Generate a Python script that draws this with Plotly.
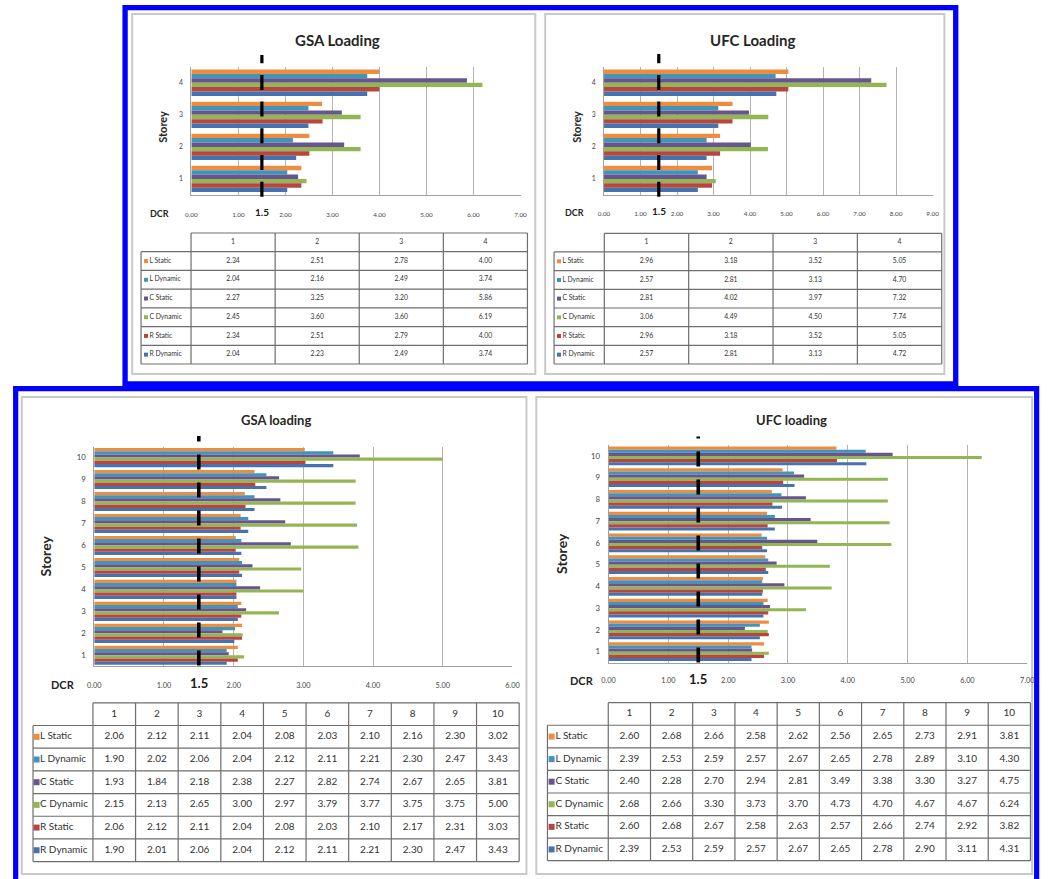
import plotly.graph_objects as go

W, H = 1048, 879
FONT = "Lato, 'Open Sans', sans-serif"

# ---------------- data ----------------
series_names = ["L Static", "L Dynamic", "C Static", "C Dynamic", "R Static", "R Dynamic"]
series_colors = ["#EE8C40", "#3F95BC", "#66558F", "#93B552", "#B8453F", "#4673AE"]

storeys_4 = [1, 2, 3, 4]
storeys_10 = [1, 2, 3, 4, 5, 6, 7, 8, 9, 10]

gsa4_l_static = [2.34, 2.51, 2.78, 4.00]
gsa4_l_dynamic = [2.04, 2.16, 2.49, 3.74]
gsa4_c_static = [2.27, 3.25, 3.20, 5.86]
gsa4_c_dynamic = [2.45, 3.60, 3.60, 6.19]
gsa4_r_static = [2.34, 2.51, 2.79, 4.00]
gsa4_r_dynamic = [2.04, 2.23, 2.49, 3.74]

ufc4_l_static = [2.96, 3.18, 3.52, 5.05]
ufc4_l_dynamic = [2.57, 2.81, 3.13, 4.70]
ufc4_c_static = [2.81, 4.02, 3.97, 7.32]
ufc4_c_dynamic = [3.06, 4.49, 4.50, 7.74]
ufc4_r_static = [2.96, 3.18, 3.52, 5.05]
ufc4_r_dynamic = [2.57, 2.81, 3.13, 4.72]

gsa10_l_static = [2.06, 2.12, 2.11, 2.04, 2.08, 2.03, 2.10, 2.16, 2.30, 3.02]
gsa10_l_dynamic = [1.90, 2.02, 2.06, 2.04, 2.12, 2.11, 2.21, 2.30, 2.47, 3.43]
gsa10_c_static = [1.93, 1.84, 2.18, 2.38, 2.27, 2.82, 2.74, 2.67, 2.65, 3.81]
gsa10_c_dynamic = [2.15, 2.13, 2.65, 3.00, 2.97, 3.79, 3.77, 3.75, 3.75, 5.00]
gsa10_r_static = [2.06, 2.12, 2.11, 2.04, 2.08, 2.03, 2.10, 2.17, 2.31, 3.03]
gsa10_r_dynamic = [1.90, 2.01, 2.06, 2.04, 2.12, 2.11, 2.21, 2.30, 2.47, 3.43]

ufc10_l_static = [2.60, 2.68, 2.66, 2.58, 2.62, 2.56, 2.65, 2.73, 2.91, 3.81]
ufc10_l_dynamic = [2.39, 2.53, 2.59, 2.57, 2.67, 2.65, 2.78, 2.89, 3.10, 4.30]
ufc10_c_static = [2.40, 2.28, 2.70, 2.94, 2.81, 3.49, 3.38, 3.30, 3.27, 4.75]
ufc10_c_dynamic = [2.68, 2.66, 3.30, 3.73, 3.70, 4.73, 4.70, 4.67, 4.67, 6.24]
ufc10_r_static = [2.60, 2.68, 2.67, 2.58, 2.63, 2.57, 2.66, 2.74, 2.92, 3.82]
ufc10_r_dynamic = [2.39, 2.53, 2.59, 2.57, 2.67, 2.65, 2.78, 2.90, 3.11, 4.31]

dcr_limit = 1.5

# ---------------- layout of the four panels (pixels) ----------------
panels = [
    dict(title="GSA Loading", cats=storeys_4, xmax=7,
         series=[gsa4_l_static, gsa4_l_dynamic, gsa4_c_static, gsa4_c_dynamic, gsa4_r_static, gsa4_r_dynamic],
         box=(127, 536, 14, 374), plot=(187, 521, 66.7, 195), group=0.82,
         title_xy=(335, 40), title_size=15, storey_xy=(158, 127), storey_size=11,
         dcr_xy=(155, 213), dcr_size=9, lim_size=10, tick_size=6.3, tick_y=213,
         dash="15px,11.7px", lim_width=3.2, lim_top=55, lim_bot=196.7,
         table=(136, 186.7, 528, 233, 364), table_size=6.8, sq=141, sq_size=4, lab=144.5),
    dict(title="UFC Loading", cats=storeys_4, xmax=9,
         series=[ufc4_l_static, ufc4_l_dynamic, ufc4_c_static, ufc4_c_dynamic, ufc4_r_static, ufc4_r_dynamic],
         box=(546, 951, 14, 374), plot=(605.7, 939, 66.7, 195), group=0.82,
         title_xy=(757, 40), title_size=15, storey_xy=(578, 127), storey_size=11,
         dcr_xy=(576, 212), dcr_size=9, lim_size=10, tick_size=6.3, tick_y=212,
         dash="15px,11.7px", lim_width=3.2, lim_top=54, lim_bot=196.7,
         table=(555, 606, 948.3, 233.3, 364), table_size=6.8, sq=560, sq_size=4, lab=563.5),
    dict(title="GSA loading", cats=storeys_10, xmax=6,
         series=[gsa10_l_static, gsa10_l_dynamic, gsa10_c_static, gsa10_c_dynamic, gsa10_r_static, gsa10_r_dynamic],
         box=(15, 527, 397, 874), plot=(88.5, 512.8, 446.6, 666.3), group=0.87,
         title_xy=(273, 420), title_size=13, storey_xy=(39, 556), storey_size=14,
         dcr_xy=(57, 684), dcr_size=11, lim_size=13, tick_size=7.3, tick_y=684,
         dash="15px,13px", lim_width=3.6, lim_top=436, lim_bot=665.4,
         table=(26.4, 87.2, 519.6, 702.8, 861.6), table_size=10, sq=30, sq_size=6, lab=33.5),
    dict(title="UFC loading", cats=storeys_10, xmax=7,
         series=[ufc10_l_static, ufc10_l_dynamic, ufc10_c_static, ufc10_c_dynamic, ufc10_r_static, ufc10_r_dynamic],
         box=(537, 1040, 397, 874), plot=(610.3, 1035, 445.1, 662.6), group=0.86,
         title_xy=(796, 420), title_size=13, storey_xy=(562, 553), storey_size=14,
         dcr_xy=(583, 680), dcr_size=11, lim_size=13, tick_size=7.3, tick_y=680,
         dash="15px,13px", lim_width=3.6, lim_top=436.5, lim_bot=662.6,
         table=(548.3, 610, 1038.3, 702.7, 860.7), table_size=10, sq=552.5, sq_size=6, lab=556.5),
]


def px(x):
    return x / W


def py(y):
    return 1 - y / H


def axis_ids(i):
    """Trace references and layout keys for axis number i."""
    s = "" if i == 1 else str(i)
    return f"x{s}", f"y{s}", f"xaxis{s}", f"yaxis{s}"


fig = go.Figure()
layout = dict(
    width=W, height=H, margin=dict(l=0, r=0, t=0, b=0),
    paper_bgcolor="white", plot_bgcolor="rgba(0,0,0,0)",
    showlegend=False, barmode="overlay", font=dict(family=FONT, color="#333333"),
)
shapes = []
annotations = []

for k, p in enumerate(panels):
    cx, cy, cxk, cyk = axis_ids(2 * k + 1)   # chart axes
    tx, ty, txk, tyk = axis_ids(2 * k + 2)   # table axes
    n = len(p["cats"])

    # panel card
    b = p["box"]
    shapes.append(dict(type="rect", xref="paper", yref="paper", layer="below",
                       x0=px(b[0]), x1=px(b[1]), y0=py(b[2]), y1=py(b[3]),
                       line=dict(color="#C9C9C9", width=2), fillcolor="white"))

    # ---- bar chart ----
    x0, x1, y0, y1 = p["plot"]
    layout[cxk] = dict(
        domain=[px(x0), px(x1)], range=[0, p["xmax"]], anchor=cy,
        dtick=1, tick0=0, tickformat=".2f", showgrid=True, gridcolor="#B4B4B4", gridwidth=1,
        zeroline=False, showline=True, linecolor="#A0A0A0", linewidth=1,
        ticks="", ticklabelstandoff=int(p["tick_y"] - y1 - p["tick_size"] * 0.75),
        tickfont=dict(size=p["tick_size"], color="#444444", family=FONT), fixedrange=True,
    )
    layout[cyk] = dict(
        domain=[py(y1), py(y0)], range=[0.5, n + 0.5], anchor=cx,
        tickmode="array", tickvals=p["cats"], ticktext=[str(c) for c in p["cats"]],
        showgrid=False, zeroline=False, showline=True, linecolor="#A0A0A0", linewidth=1,
        ticks="", ticklabelstandoff=6,
        tickfont=dict(size=p["tick_size"] + 0.5, color="#444444", family=FONT), fixedrange=True,
    )
    g = p["group"]
    w = g / 6
    for i, (name, col, vals) in enumerate(zip(series_names, series_colors, p["series"])):
        fig.add_trace(go.Bar(
            x=vals, y=p["cats"], orientation="h", name=name,
            width=w, offset=g / 2 - (i + 1) * w,
            marker=dict(color=col, line=dict(width=0)),
            xaxis=cx, yaxis=cy,
        ))

    # DCR limit line, dashes laid out from the bottom upwards
    hplot = y1 - y0
    shapes.append(dict(type="line", xref=cx, yref=f"{cy} domain", layer="above",
                       x0=dcr_limit, x1=dcr_limit,
                       y0=(y1 - p["lim_bot"]) / hplot, y1=(y1 - p["lim_top"]) / hplot,
                       line=dict(color="black", width=p["lim_width"], dash=p["dash"])))

    # texts around the chart
    annotations.append(dict(text=f"<b>{p['title']}</b>", xref="paper", yref="paper",
                            x=px(p["title_xy"][0]), y=py(p["title_xy"][1]),
                            showarrow=False, xanchor="center", yanchor="middle",
                            font=dict(size=p["title_size"], color="#262626", family=FONT)))
    annotations.append(dict(text="<b>Storey</b>", xref="paper", yref="paper", textangle=-90,
                            x=px(p["storey_xy"][0]), y=py(p["storey_xy"][1]),
                            showarrow=False, xanchor="center", yanchor="middle",
                            font=dict(size=p["storey_size"], color="#262626", family=FONT)))
    annotations.append(dict(text="<b>DCR</b>", xref="paper", yref="paper",
                            x=px(p["dcr_xy"][0]), y=py(p["dcr_xy"][1]),
                            showarrow=False, xanchor="center", yanchor="middle",
                            font=dict(size=p["dcr_size"], color="#262626", family=FONT)))
    annotations.append(dict(text=f"<b>{dcr_limit}</b>", xref=cx, yref="paper",
                            x=dcr_limit, y=py(p["tick_y"] - 1),
                            showarrow=False, xanchor="center", yanchor="middle",
                            font=dict(size=p["lim_size"], color="#1A1A1A", family=FONT)))

    # ---- data table ----
    tl, tlab, tr, tt, tb = p["table"]
    colw = (tr - tlab) / n
    rowh = (tb - tt) / 7
    xl = 0.5 - (tlab - tl) / colw
    pad = 4
    layout[txk] = dict(domain=[px(tl - pad), px(tr + pad)],
                       range=[xl - pad / colw, n + 0.5 + pad / colw],
                       visible=False, fixedrange=True, anchor=ty)
    layout[tyk] = dict(domain=[py(tb + pad), py(tt - pad)],
                       range=[6.5 + pad / rowh, -0.5 - pad / rowh],
                       visible=False, fixedrange=True, anchor=tx)
    gx, gy = [], []
    gx += [0.5, n + 0.5, None]
    gy += [-0.5, -0.5, None]
    for r in range(7):
        gx += [xl, n + 0.5, None]
        gy += [r + 0.5, r + 0.5, None]
    gx += [xl, xl, None]
    gy += [0.5, 6.5, None]
    for c in range(n + 1):
        gx += [c + 0.5, c + 0.5, None]
        gy += [-0.5, 6.5, None]
    fig.add_trace(go.Scatter(x=gx, y=gy, mode="lines", line=dict(color="#6E6E6E", width=1.2),
                             xaxis=tx, yaxis=ty, hoverinfo="skip"))
    # header row
    fig.add_trace(go.Scatter(x=list(range(1, n + 1)), y=[0] * n, mode="text",
                             text=[str(c) for c in p["cats"]], textposition="middle center",
                             textfont=dict(size=p["table_size"], color="#333333", family=FONT),
                             xaxis=tx, yaxis=ty, cliponaxis=False, hoverinfo="skip"))
    for i, (name, col, vals) in enumerate(zip(series_names, series_colors, p["series"])):
        row = i + 1
        fig.add_trace(go.Scatter(x=list(range(1, n + 1)), y=[row] * n, mode="text",
                                 text=[f"{v:.2f}" for v in vals], textposition="middle center",
                                 textfont=dict(size=p["table_size"], color="#333333", family=FONT),
                                 xaxis=tx, yaxis=ty, cliponaxis=False, hoverinfo="skip"))
        fig.add_trace(go.Scatter(x=[xl + (p["sq"] - tl) / colw], y=[row], mode="markers",
                                 marker=dict(symbol="square", size=p["sq_size"], color=col),
                                 xaxis=tx, yaxis=ty, cliponaxis=False, hoverinfo="skip"))
        fig.add_trace(go.Scatter(x=[xl + (p["lab"] - tl) / colw], y=[row], mode="text",
                                 text=[name], textposition="middle right",
                                 textfont=dict(size=p["table_size"], color="#333333", family=FONT),
                                 xaxis=tx, yaxis=ty, cliponaxis=False, hoverinfo="skip"))

# blue outer frames (drawn after the cards so they sit on top of them)
shapes.append(dict(type="rect", xref="paper", yref="paper", layer="below",
                   x0=px(119.8), x1=px(962.5), y0=py(7.6), y1=py(384),
                   line=dict(color="#0000FF", width=5.3)))
shapes.append(dict(type="rect", xref="paper", yref="paper", layer="below",
                   x0=px(8.8), x1=px(1044.6), y0=py(388.6), y1=py(895),
                   line=dict(color="#0000FF", width=5.2)))

layout["shapes"] = shapes
layout["annotations"] = annotations
fig.update_layout(**layout)
fig.write_html("out.html")
